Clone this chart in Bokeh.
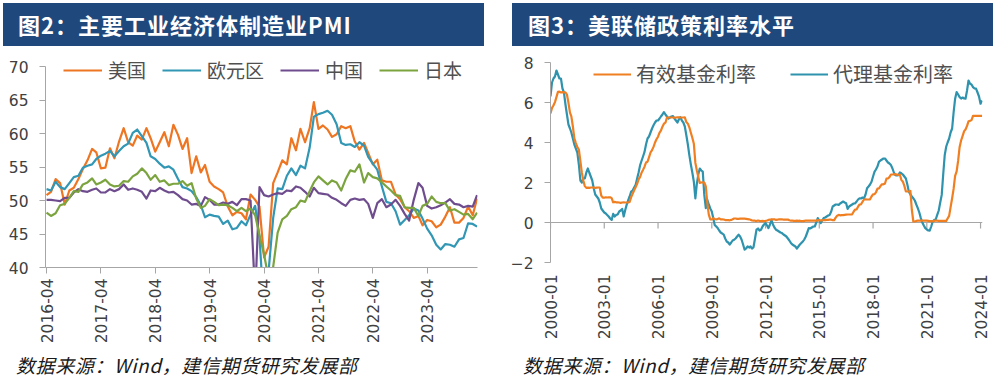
import math
import pandas as pd
from bokeh.plotting import figure
from bokeh.models import (Range1d, FixedTicker, DatetimeTickFormatter, Legend, LegendItem,
                          Span, ColumnDataSource, Div)
from bokeh.layouts import row, column
from bokeh.embed import file_html
from bokeh.resources import INLINE

# ---------------- data: Fig 2, manufacturing PMI (monthly, 2016-04 .. 2024-03) ----------------
pmi_first_month = "2016-04-01"
us_pmi = [50.8, 51.3, 53.2, 52.6, 49.4, 51.5, 51.9, 53.2, 54.7,
          56.0, 57.7, 57.2, 54.8, 54.9, 57.8, 56.3, 58.8, 60.8, 58.7, 58.2, 59.7,
          59.1, 60.8, 59.3, 57.3, 58.7, 60.2, 58.1, 61.3, 59.8, 57.7, 59.3, 54.1,
          56.6, 54.2, 55.3, 52.8, 52.1, 51.7, 51.2, 49.1, 47.8, 48.3, 48.1, 47.2,
          50.9, 50.1, 49.1, 41.5, 43.1, 52.6, 54.2, 56.0, 55.4, 59.3, 57.5, 60.7,
          58.7, 60.8, 64.7, 60.7, 61.2, 60.6, 59.5, 59.9, 61.1, 60.8, 61.1, 58.8,
          57.6, 58.6, 57.1, 55.4, 56.1, 53.0, 52.8, 52.8, 50.9, 50.2, 49.0, 48.4,
          47.4, 47.7, 46.3, 47.1, 46.9, 46.0, 46.4, 47.6, 49.0, 46.7, 46.7, 47.4,
          49.1, 47.8, 50.3]
ez_pmi = [51.7, 51.5, 52.8, 52.0, 51.7, 52.6, 53.5, 53.7, 54.9,
          55.2, 55.4, 56.2, 56.7, 57.0, 57.4, 56.6, 57.4, 58.1, 58.5, 60.1, 60.6,
          59.6, 58.6, 56.6, 56.2, 55.5, 54.9, 55.1, 54.6, 53.2, 52.0, 51.8, 51.4,
          50.5, 49.3, 47.5, 47.9, 47.7, 47.6, 46.5, 47.0, 45.7, 45.9, 46.9, 46.3,
          47.9, 49.2, 44.5, 33.4, 39.4, 47.4, 51.8, 51.7, 53.7, 54.8, 53.8, 55.2,
          54.8, 57.9, 62.5, 62.9, 63.1, 63.4, 62.8, 61.4, 58.6, 58.3, 58.4, 58.0,
          58.7, 58.2, 56.5, 55.5, 54.6, 52.1, 49.8, 49.6, 48.4, 46.4, 47.1, 47.8,
          48.8, 48.5, 47.3, 45.8, 44.8, 43.4, 42.7, 43.5, 43.4, 43.1, 44.2, 44.4,
          46.6, 46.5, 46.1]
cn_pmi = [50.1, 50.1, 50.0, 49.9, 50.4, 50.4, 51.2, 51.7, 51.4,
          51.3, 51.6, 51.8, 51.2, 51.2, 51.7, 51.4, 51.7, 52.4, 51.6, 51.8, 51.6,
          51.3, 50.3, 51.5, 51.4, 51.9, 51.5, 51.2, 51.3, 50.8, 50.2, 50.0, 49.4,
          49.5, 49.2, 50.5, 50.1, 49.4, 49.4, 49.7, 49.5, 49.8, 49.3, 50.2, 50.2,
          50.0, 35.7, 52.0, 50.8, 50.6, 50.9, 51.1, 51.0, 51.5, 51.4, 52.1, 51.9,
          51.3, 50.6, 51.9, 51.1, 51.0, 50.9, 50.4, 50.1, 49.6, 49.2, 50.1, 50.3,
          50.1, 50.2, 49.5, 47.4, 49.6, 50.2, 49.0, 49.4, 50.1, 49.2, 48.0, 47.0,
          50.1, 52.6, 51.9, 49.2, 48.8, 49.0, 49.3, 49.7, 50.2, 49.5, 49.4, 49.0,
          49.2, 49.1, 50.8]
jp_pmi = [48.2, 47.7, 48.1, 49.3, 49.5, 50.4, 51.4, 51.3, 52.4,
          52.7, 53.3, 52.4, 52.7, 53.1, 52.4, 52.1, 52.2, 52.9, 52.8, 53.6, 54.0,
          54.8, 54.1, 53.1, 53.8, 52.8, 53.0, 52.3, 52.5, 52.5, 52.9, 52.2, 52.6,
          50.3, 48.9, 49.2, 50.2, 49.8, 49.3, 49.4, 49.3, 48.9, 48.4, 48.9, 48.4,
          48.8, 47.8, 44.8, 41.9, 38.4, 40.1, 45.2, 47.2, 47.7, 48.7, 49.0, 50.0,
          49.8, 51.4, 52.7, 53.6, 53.0, 52.4, 53.0, 52.7, 51.5, 53.2, 54.5, 54.3,
          55.4, 52.7, 54.1, 53.5, 53.3, 52.7, 52.1, 51.5, 50.8, 50.7, 49.0, 48.9,
          48.9, 47.7, 49.2, 49.5, 50.6, 49.8, 49.6, 49.6, 48.5, 48.7, 48.3, 47.9,
          48.0, 47.2, 48.2]
pmi_names = ["美国", "欧元区", "中国", "日本"]
pmi_ticks = ["2016-04", "2017-04", "2018-04", "2019-04", "2020-04", "2021-04", "2022-04", "2023-04"]
pmi_y_ticks = [40, 45, 50, 55, 60, 65, 70]

# ---------------- data: Fig 3, Fed policy rates (monthly, 2000-01 .. 2024-02) ----------------
fed_first_month = "2000-01-01"
effr = [5.45, 5.73, 5.85, 6.02, 6.27, 6.53, 6.54, 6.50, 6.52, 6.51, 6.51, 6.40,
        5.98, 5.49, 5.31, 4.80, 4.21, 3.97, 3.77, 3.65, 3.07, 2.49, 2.09, 1.82,
        1.73, 1.74, 1.73, 1.75, 1.75, 1.75, 1.73, 1.74, 1.75, 1.75, 1.34, 1.24,
        1.24, 1.26, 1.25, 1.26, 1.26, 1.22, 1.01, 1.03, 1.01, 1.01, 1.00, 0.98,
        1.00, 1.01, 1.00, 1.00, 1.00, 1.03, 1.26, 1.43, 1.61, 1.76, 1.93, 2.16,
        2.28, 2.50, 2.63, 2.79, 3.00, 3.04, 3.26, 3.50, 3.62, 3.78, 4.00, 4.16,
        4.29, 4.49, 4.59, 4.79, 4.94, 4.99, 5.24, 5.25, 5.25, 5.25, 5.25, 5.24,
        5.25, 5.26, 5.26, 5.25, 5.25, 5.25, 5.26, 5.02, 4.94, 4.76, 4.49, 4.24,
        3.94, 2.98, 2.61, 2.28, 1.98, 2.00, 2.01, 2.00, 1.81, 0.97, 0.39, 0.16,
        0.15, 0.22, 0.18, 0.15, 0.18, 0.21, 0.16, 0.16, 0.15, 0.12, 0.12, 0.12,
        0.11, 0.13, 0.16, 0.20, 0.20, 0.18, 0.18, 0.19, 0.19, 0.19, 0.19, 0.18,
        0.17, 0.16, 0.14, 0.10, 0.09, 0.09, 0.07, 0.10, 0.08, 0.07, 0.08, 0.07,
        0.08, 0.10, 0.13, 0.14, 0.16, 0.16, 0.16, 0.13, 0.14, 0.16, 0.16, 0.16,
        0.14, 0.15, 0.14, 0.15, 0.11, 0.09, 0.09, 0.08, 0.08, 0.09, 0.08, 0.09,
        0.07, 0.07, 0.08, 0.09, 0.09, 0.10, 0.09, 0.09, 0.09, 0.09, 0.09, 0.12,
        0.11, 0.11, 0.11, 0.12, 0.12, 0.13, 0.13, 0.14, 0.14, 0.12, 0.12, 0.24,
        0.34, 0.38, 0.36, 0.37, 0.37, 0.38, 0.39, 0.40, 0.40, 0.40, 0.41, 0.54,
        0.65, 0.66, 0.79, 0.90, 0.91, 1.04, 1.15, 1.16, 1.15, 1.15, 1.16, 1.30,
        1.41, 1.42, 1.51, 1.69, 1.70, 1.82, 1.91, 1.91, 1.95, 2.19, 2.20, 2.27,
        2.40, 2.40, 2.41, 2.42, 2.39, 2.38, 2.40, 2.13, 2.04, 1.83, 1.55, 1.55,
        1.55, 1.58, 0.65, 0.05, 0.05, 0.08, 0.09, 0.10, 0.09, 0.09, 0.09, 0.09,
        0.09, 0.08, 0.07, 0.07, 0.06, 0.08, 0.10, 0.09, 0.08, 0.08, 0.08, 0.08,
        0.08, 0.08, 0.20, 0.33, 0.77, 1.21, 1.68, 2.33, 2.56, 3.08, 3.78, 4.10,
        4.33, 4.57, 4.65, 4.83, 5.06, 5.08, 5.12, 5.33, 5.33, 5.33, 5.33, 5.33,
        5.33, 5.33]
proxy_rate = [6.3, 7.0, 7.2, 7.3, 7.6, 7.4, 7.2, 7.2, 6.7, 6.5, 5.9, 5.4,
              4.9, 4.7, 4.5, 4.2, 3.9, 3.7, 3.5, 2.9, 2.1, 2.0, 2.2, 2.2,
              2.5, 2.7, 2.5, 2.3, 2.1, 1.7, 1.4, 1.3, 1.2, 1.0, 0.7, 0.6,
              0.5, 0.45, 0.38, 0.3, 0.2, 0.13, 0.43, 0.3, 0.38, 0.4, 0.55, 0.6,
              0.68, 0.3, 0.6, 0.88, 1.1, 1.3, 1.54, 1.6, 1.75, 1.88, 2.2, 2.5,
              2.87, 3.1, 3.3, 3.53, 3.9, 4.2, 4.3, 4.5, 4.7, 4.86, 5.0, 5.1,
              5.1, 5.2, 5.3, 5.4, 5.52, 5.4, 5.3, 5.2, 5.25, 5.3, 5.32, 5.2,
              5.1, 5.0, 5.15, 5.27, 5.1, 5.0, 4.8, 4.36, 3.9, 3.37, 2.9, 2.5,
              2.04, 1.21, 1.9, 2.4, 2.7, 2.6, 2.54, 1.38, 0.72, 1.13, 0.9, 0.7,
              0.55, 0.2, -0.12, -0.2, -0.28, -0.4, -0.5, -0.55, -0.61, -0.8, -0.95, -1.0,
              -1.1, -1.0, -0.9, -0.86, -0.8, -0.7, -0.61, -0.7, -0.86, -1.1, -1.36, -1.3,
              -1.19, -1.25, -1.2, -1.3, -1.24, -0.8, -0.36, -0.3, -0.4, -0.36, -0.2, -0.1,
              -0.03, -0.15, -0.28, -0.1, 0.13, -0.1, -0.25, -0.36, -0.4, -0.45, -0.5, -0.53,
              -0.6, -0.65, -0.7, -0.8, -0.9, -1.02, -1.1, -1.15, -1.2, -1.3, -1.2, -1.1,
              -1.02, -0.95, -0.85, -0.7, -0.5, -0.28, -0.3, -0.25, -0.2, -0.2, 0.0, 0.22,
              0.1, -0.03, 0.1, 0.22, 0.25, 0.3, 0.35, 0.38, 0.55, 0.8, 0.85, 0.9,
              0.9, 0.88, 0.95, 1.0, 1.05, 1.0, 0.96, 0.68, 0.8, 0.85, 0.9, 0.95,
              0.96, 1.05, 1.15, 1.21, 1.2, 1.25, 1.21, 1.4, 1.71, 1.8, 1.9, 2.04,
              2.3, 2.54, 2.65, 2.8, 3.03, 3.1, 3.15, 3.2, 3.2, 3.1, 3.0, 2.95,
              2.87, 2.7, 2.5, 2.37, 2.35, 2.37, 2.5, 2.46, 2.4, 2.3, 2.2, 1.9,
              1.54, 1.4, 1.3, 1.21, 1.1, 0.9, 0.72, 0.5, 0.22, 0.0, -0.15, -0.28,
              -0.35, -0.4, -0.41, -0.2, 0.05, 0.13, 0.15, 0.38, 0.6, 1.0, 1.38, 2.4,
              3.37, 3.8, 4.0, 4.2, 4.5, 4.7, 5.5, 6.19, 6.52, 6.4, 6.27, 6.2,
              6.25, 6.2, 6.19, 6.6, 7.1, 6.94, 6.9, 6.77, 6.7, 6.69, 6.5, 6.3,
              5.94, 6.1]
fed_names = ["有效基金利率", "代理基金利率"]
fed_ticks = ["2000-01", "2003-01", "2006-01", "2009-01", "2012-01", "2015-01", "2018-01", "2021-01", "2024-01"]
fed_y_ticks = [-2, 0, 2, 4, 6, 8]

titles = ["图2：主要工业经济体制造业PMI", "图3：美联储政策利率水平"]
source_text = "数据来源：Wind，建信期货研究发展部"

# ---------------- styles ----------------
TITLE_BG = "#1F497D"
AXIS_COLOR = "#A6A6A6"
TICK_COLOR = "#404040"
TICK_FONT = "DejaVu Sans"
CJK = "Noto Sans CJK SC"
PMI_COLORS = ["#EE7623", "#3197B4", "#6E4C8E", "#7BA43F"]
FED_COLORS = ["#F07F22", "#2F93AE"]


def ms(label):
    return pd.Timestamp(label + "-01").timestamp() * 1000.0


def title_div(text, pad, left_margin):
    return Div(text=text, width=481, height=43, margin=(3, 0, 0, left_margin),
               styles={"background-color": TITLE_BG, "color": "#FFFFFF",
                       "font-family": "'Noto Sans CJK SC', sans-serif", "font-size": "22px",
                       "font-weight": "bold", "letter-spacing": "1px", "line-height": "43px",
                       "padding-left": f"{pad}px", "box-sizing": "border-box",
                       "white-space": "nowrap", "overflow": "hidden"})


def source_div(width, pad):
    return Div(text=source_text, width=width, height=26, margin=(0, 0, 0, 0),
               styles={"color": "#1A1A1A", "font-family": "'Noto Sans CJK SC', sans-serif",
                       "font-size": "19px", "font-style": "italic", "letter-spacing": "0.6px",
                       "line-height": "26px", "padding-left": f"{pad}px",
                       "box-sizing": "border-box", "white-space": "nowrap", "overflow": "hidden"})


def style_common(p):
    p.outline_line_color = None
    p.grid.visible = False
    p.background_fill_color = "white"
    p.border_fill_color = "white"
    for ax in (p.xaxis[0], p.yaxis[0]):
        ax.axis_line_color = AXIS_COLOR
        ax.major_tick_line_color = AXIS_COLOR
        ax.minor_tick_line_color = None
        ax.major_tick_in = 0
        ax.major_tick_out = 6
        ax.major_label_text_font = TICK_FONT
        ax.major_label_text_font_size = "15.5px"
        ax.major_label_text_color = TICK_COLOR
    p.yaxis[0].major_label_standoff = 11
    p.xaxis[0].major_label_orientation = math.pi / 2
    p.xaxis[0].formatter = DatetimeTickFormatter(
        microseconds="%Y-%m", milliseconds="%Y-%m", seconds="%Y-%m", minsec="%Y-%m",
        minutes="%Y-%m", hourmin="%Y-%m", hours="%Y-%m", days="%Y-%m",
        months="%Y-%m", years="%Y-%m")


def legend(items, loc, glyph_w, standoff, spacing, size):
    return Legend(items=items, orientation="horizontal", location=loc,
                  glyph_width=glyph_w, glyph_height=14, label_standoff=standoff, spacing=spacing,
                  padding=0, margin=0, border_line_color=None, background_fill_alpha=0,
                  label_text_font=CJK, label_text_font_size=size, label_text_color="#505050",
                  label_height=14)


# ---------------- left: PMI ----------------
pmi_dates = pd.date_range(pmi_first_month, periods=len(us_pmi), freq="MS")
src1 = ColumnDataSource(dict(x=pmi_dates, us=us_pmi, ez=ez_pmi, cn=cn_pmi, jp=jp_pmi))

# the frame reaches a little above 70 (room for the legend); the axis itself stops at 70
p1 = figure(width=500, height=306, x_axis_type="datetime", output_backend="svg",
            toolbar_location=None, title=None,
            x_range=Range1d(pd.Timestamp("2016-03-25"), pd.Timestamp("2024-03-04")),
            y_range=Range1d(pmi_y_ticks[0], pmi_y_ticks[-1] + 1.8),
            min_border_left=45, min_border_right=23, min_border_top=8, min_border_bottom=85)
style_common(p1)
p1.yaxis[0].ticker = FixedTicker(ticks=pmi_y_ticks)
p1.yaxis[0].bounds = (pmi_y_ticks[0], pmi_y_ticks[-1])
p1.xaxis[0].ticker = FixedTicker(ticks=[ms(t) for t in pmi_ticks])
p1.xaxis[0].major_label_standoff = 5

items1 = []
for col, name, color in zip(["us", "ez", "cn", "jp"], pmi_names, PMI_COLORS):
    r = p1.line("x", col, source=src1, line_color=color, line_width=2.2, line_join="round")
    items1.append(LegendItem(label=name, renderers=[r]))
p1.add_layout(legend(items1, (18, 184), 39, 6, 16, "19px"))

# ---------------- right: Fed rates ----------------
fed_dates = pd.date_range(fed_first_month, periods=len(effr), freq="MS")
src2 = ColumnDataSource(dict(x=fed_dates, effr=effr, proxy=proxy_rate))

p2 = figure(width=496, height=306, x_axis_type="datetime", output_backend="svg",
            toolbar_location=None, title=None,
            x_range=Range1d(pd.Timestamp("2000-01-01"), pd.Timestamp("2024-02-10")),
            y_range=Range1d(fed_y_ticks[0], fed_y_ticks[-1] + 0.3),
            min_border_left=50, min_border_right=14, min_border_top=10, min_border_bottom=90)
style_common(p2)
p2.yaxis[0].ticker = FixedTicker(ticks=fed_y_ticks)
p2.yaxis[0].bounds = (fed_y_ticks[0], fed_y_ticks[-1])
p2.xaxis[0].ticker = FixedTicker(ticks=[ms(t) for t in fed_ticks])
p2.xaxis[0].axis_line_color = None
p2.xaxis[0].major_tick_line_color = None
p2.xaxis[0].major_tick_out = 0
p2.xaxis[0].major_label_standoff = 12

p2.add_layout(Span(location=0, dimension="width", line_color=AXIS_COLOR, line_width=1.2,
                   level="underlay"))
tick_dates = pd.to_datetime([t + "-01" for t in fed_ticks])
p2.segment(x0=tick_dates, y0=[0] * len(fed_ticks), x1=tick_dates, y1=[-0.3] * len(fed_ticks),
           line_color=AXIS_COLOR, line_width=1.2)

r_proxy = p2.line("x", "proxy", source=src2, line_color=FED_COLORS[1], line_width=2.2,
                  line_join="round")
r_effr = p2.line("x", "effr", source=src2, line_color=FED_COLORS[0], line_width=2.2,
                 line_join="round")
p2.add_layout(legend([LegendItem(label=fed_names[0], renderers=[r_effr]),
                      LegendItem(label=fed_names[1], renderers=[r_proxy])],
                     (43, 174), 38, 5, 34, "20px"))

left_col = column(title_div(titles[0], 15, 3), p1, source_div(500, 16))
right_col = column(title_div(titles[1], 16, 12), p2, source_div(496, 23))
layout = row(left_col, right_col)
open("out.html", "w").write(file_html(layout, INLINE))
